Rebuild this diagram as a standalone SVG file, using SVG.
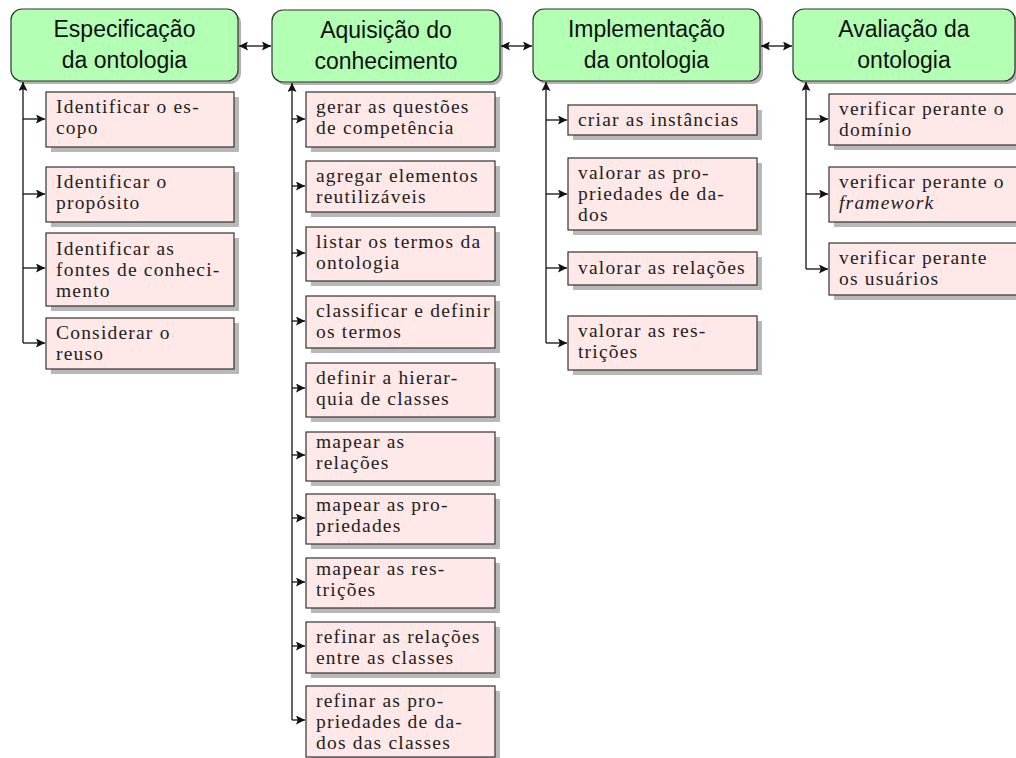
<svg xmlns="http://www.w3.org/2000/svg" width="1016" height="758" viewBox="0 0 1016 758">
<style>
.hdr{fill:#b3ffb3;stroke:#333;stroke-width:1.2}
.hsh{fill:#b3b3b3}
.box{fill:#ffe8e8;stroke:#333;stroke-width:1.2}
.sh{fill:#b8b8b8}
.ht{font-family:"Liberation Sans",Arial,sans-serif;font-size:23px;fill:#111;text-anchor:middle}
.t{font-family:"Liberation Serif","Times New Roman",serif;font-size:19.5px;letter-spacing:1.2px;fill:#222}
.c{fill:none;stroke:#111;stroke-width:1.3}
</style>
<defs>
<marker id="ah" viewBox="0 0 10 10" refX="10" refY="5" markerWidth="9" markerHeight="9" markerUnits="userSpaceOnUse" orient="auto-start-reverse">
<path d="M0,0 L10,5 L0,10 L2,5 Z" fill="#111"/>
</marker>
</defs>
<rect width="1016" height="758" fill="#fff"/>

<!-- Header nodes -->
<g id="h1"><rect class="hsh" x="14" y="12" width="227" height="72" rx="11"/><rect class="hdr" x="11" y="9" width="227" height="72" rx="11"/><text class="ht" x="124.5" y="37">Especificação</text><text class="ht" x="124.5" y="68">da ontologia</text></g>
<g id="h2"><rect class="hsh" x="275" y="13" width="228" height="72" rx="11"/><rect class="hdr" x="272" y="10" width="228" height="72" rx="11"/><text class="ht" x="386" y="38">Aquisição do</text><text class="ht" x="386" y="69">conhecimento</text></g>
<g id="h3"><rect class="hsh" x="536" y="12" width="227" height="72" rx="11"/><rect class="hdr" x="533" y="9" width="227" height="72" rx="11"/><text class="ht" x="646.5" y="37">Implementação</text><text class="ht" x="646.5" y="68">da ontologia</text></g>
<g id="h4"><rect class="hsh" x="796" y="12" width="222" height="72" rx="11"/><rect class="hdr" x="793" y="9" width="222" height="72" rx="11"/><text class="ht" x="904" y="37">Avaliação da</text><text class="ht" x="904" y="68">ontologia</text></g>

<!-- Connectors -->
<g id="connectors">
<line class="c" x1="239" y1="46" x2="271" y2="46" marker-start="url(#ah)" marker-end="url(#ah)"/>
<line class="c" x1="501" y1="46" x2="532" y2="46" marker-start="url(#ah)" marker-end="url(#ah)"/>
<line class="c" x1="761" y1="46" x2="792" y2="46" marker-start="url(#ah)" marker-end="url(#ah)"/>

<path class="c" d="M23,343 L23,82" marker-end="url(#ah)"/>
<path class="c" d="M23,119 H45" marker-end="url(#ah)"/>
<path class="c" d="M23,194 H45" marker-end="url(#ah)"/>
<path class="c" d="M23,268 H45" marker-end="url(#ah)"/>
<path class="c" d="M23,343 H45" marker-end="url(#ah)"/>

<path class="c" d="M292,720 L292,83" marker-end="url(#ah)"/>
<path class="c" d="M292,119 H305" marker-end="url(#ah)"/>
<path class="c" d="M292,186 H305" marker-end="url(#ah)"/>
<path class="c" d="M292,253 H305" marker-end="url(#ah)"/>
<path class="c" d="M292,321 H305" marker-end="url(#ah)"/>
<path class="c" d="M292,388 H305" marker-end="url(#ah)"/>
<path class="c" d="M292,455 H305" marker-end="url(#ah)"/>
<path class="c" d="M292,518 H305" marker-end="url(#ah)"/>
<path class="c" d="M292,582 H305" marker-end="url(#ah)"/>
<path class="c" d="M292,646 H305" marker-end="url(#ah)"/>
<path class="c" d="M292,720 H305" marker-end="url(#ah)"/>

<path class="c" d="M546,343 L546,82" marker-end="url(#ah)"/>
<path class="c" d="M546,120 H567" marker-end="url(#ah)"/>
<path class="c" d="M546,194 H567" marker-end="url(#ah)"/>
<path class="c" d="M546,268 H567" marker-end="url(#ah)"/>
<path class="c" d="M546,343 H567" marker-end="url(#ah)"/>

<path class="c" d="M806,269 L806,82" marker-end="url(#ah)"/>
<path class="c" d="M806,119 H828" marker-end="url(#ah)"/>
<path class="c" d="M806,194 H828" marker-end="url(#ah)"/>
<path class="c" d="M806,269 H828" marker-end="url(#ah)"/>
</g>

<!-- Column 1 -->
<g id="c1a"><rect class="sh" x="51" y="97" width="188" height="55"/><rect class="box" x="46" y="92" width="188" height="55"/><text class="t" x="56" y="113">Identificar o es-</text><text class="t" x="56" y="134">copo</text></g>
<g id="c1b"><rect class="sh" x="51" y="172" width="188" height="55"/><rect class="box" x="46" y="167" width="188" height="55"/><text class="t" x="56" y="188">Identificar o</text><text class="t" x="56" y="209">propósito</text></g>
<g id="c1c"><rect class="sh" x="51" y="238" width="188" height="73"/><rect class="box" x="46" y="233" width="188" height="73"/><text class="t" x="56" y="255">Identificar as</text><text class="t" x="56" y="276">fontes de conheci-</text><text class="t" x="56" y="297">mento</text></g>
<g id="c1d"><rect class="sh" x="51" y="323" width="188" height="51"/><rect class="box" x="46" y="318" width="188" height="51"/><text class="t" x="56" y="339">Considerar o</text><text class="t" x="56" y="360">reuso</text></g>

<!-- Column 2 -->
<g id="c2a"><rect class="sh" x="311" y="97" width="189" height="55"/><rect class="box" x="306" y="92" width="189" height="55"/><text class="t" x="316" y="113">gerar as questões</text><text class="t" x="316" y="134">de competência</text></g>
<g id="c2b"><rect class="sh" x="311" y="166" width="189" height="51"/><rect class="box" x="306" y="161" width="189" height="51"/><text class="t" x="316" y="182">agregar elementos</text><text class="t" x="316" y="203">reutilizáveis</text></g>
<g id="c2c"><rect class="sh" x="311" y="232" width="189" height="54"/><rect class="box" x="306" y="227" width="189" height="54"/><text class="t" x="316" y="248">listar os termos da</text><text class="t" x="316" y="269">ontologia</text></g>
<g id="c2d"><rect class="sh" x="311" y="301" width="189" height="52"/><rect class="box" x="306" y="296" width="189" height="52"/><text class="t" x="316" y="317">classificar e definir</text><text class="t" x="316" y="338">os termos</text></g>
<g id="c2e"><rect class="sh" x="311" y="368" width="189" height="54"/><rect class="box" x="306" y="363" width="189" height="54"/><text class="t" x="316" y="384">definir a hierar-</text><text class="t" x="316" y="405">quia de classes</text></g>
<g id="c2f"><rect class="sh" x="311" y="437" width="189" height="49"/><rect class="box" x="306" y="432" width="189" height="49"/><text class="t" x="316" y="448">mapear as</text><text class="t" x="316" y="469">relações</text></g>
<g id="c2g"><rect class="sh" x="311" y="499" width="189" height="50"/><rect class="box" x="306" y="494" width="189" height="50"/><text class="t" x="316" y="511">mapear as pro-</text><text class="t" x="316" y="532">priedades</text></g>
<g id="c2h"><rect class="sh" x="311" y="563" width="189" height="50"/><rect class="box" x="306" y="558" width="189" height="50"/><text class="t" x="316" y="575">mapear as res-</text><text class="t" x="316" y="596">trições</text></g>
<g id="c2i"><rect class="sh" x="311" y="627" width="189" height="51"/><rect class="box" x="306" y="622" width="189" height="51"/><text class="t" x="316" y="643">refinar as relações</text><text class="t" x="316" y="664">entre as classes</text></g>
<g id="c2j"><rect class="sh" x="311" y="691" width="189" height="71"/><rect class="box" x="306" y="686" width="189" height="71"/><text class="t" x="316" y="707">refinar as pro-</text><text class="t" x="316" y="728">priedades de da-</text><text class="t" x="316" y="749">dos das classes</text></g>

<!-- Column 3 -->
<g id="c3a"><rect class="sh" x="573" y="110" width="189" height="30"/><rect class="box" x="568" y="105" width="189" height="30"/><text class="t" x="578" y="126">criar as instâncias</text></g>
<g id="c3b"><rect class="sh" x="573" y="163" width="189" height="72"/><rect class="box" x="568" y="158" width="189" height="72"/><text class="t" x="578" y="179">valorar as pro-</text><text class="t" x="578" y="200">priedades de da-</text><text class="t" x="578" y="221">dos</text></g>
<g id="c3c"><rect class="sh" x="573" y="257" width="189" height="33"/><rect class="box" x="568" y="252" width="189" height="33"/><text class="t" x="578" y="274">valorar as relações</text></g>
<g id="c3d"><rect class="sh" x="573" y="321" width="189" height="54"/><rect class="box" x="568" y="316" width="189" height="54"/><text class="t" x="578" y="337">valorar as res-</text><text class="t" x="578" y="358">trições</text></g>

<!-- Column 4 -->
<g id="c4a"><rect class="sh" x="834" y="99" width="189" height="51"/><rect class="box" x="829" y="94" width="189" height="51"/><text class="t" x="839" y="115">verificar perante o</text><text class="t" x="839" y="136">domínio</text></g>
<g id="c4b"><rect class="sh" x="834" y="172" width="189" height="55"/><rect class="box" x="829" y="167" width="189" height="55"/><text class="t" x="839" y="188">verificar perante o</text><text class="t" x="839" y="209" font-style="italic">framework</text></g>
<g id="c4c"><rect class="sh" x="834" y="248" width="189" height="52"/><rect class="box" x="829" y="243" width="189" height="52"/><text class="t" x="839" y="264">verificar perante</text><text class="t" x="839" y="285">os usuários</text></g>
</svg>
